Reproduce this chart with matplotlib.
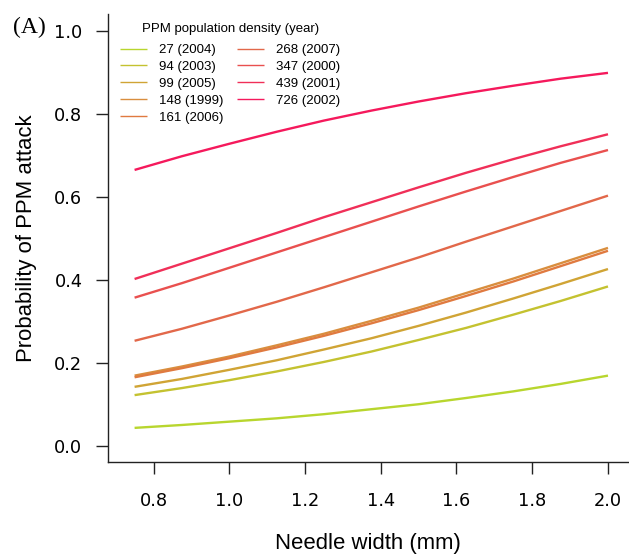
import numpy as np
import matplotlib
matplotlib.use('Agg')
import matplotlib.pyplot as plt

# needle width (mm) where the fitted curves were read
needle_width = [0.75, 0.875, 1.0, 1.125, 1.25, 1.375, 1.5, 1.625, 1.75, 1.875, 2.0]

# predicted probability of attack, one list per PPM density (year)
p_27 = [0.043, 0.050, 0.058, 0.066, 0.076, 0.088, 0.100, 0.115, 0.131, 0.149, 0.169]
p_94 = [0.122, 0.139, 0.158, 0.179, 0.202, 0.227, 0.255, 0.284, 0.316, 0.349, 0.384]
p_99 = [0.142, 0.161, 0.183, 0.206, 0.232, 0.259, 0.289, 0.321, 0.355, 0.390, 0.426]
p_148 = [0.169, 0.191, 0.215, 0.242, 0.270, 0.301, 0.333, 0.368, 0.403, 0.440, 0.477]
p_161 = [0.165, 0.187, 0.211, 0.237, 0.265, 0.295, 0.327, 0.361, 0.396, 0.433, 0.470]
p_268 = [0.253, 0.282, 0.314, 0.347, 0.382, 0.418, 0.454, 0.492, 0.529, 0.566, 0.603]
p_347 = [0.357, 0.392, 0.429, 0.466, 0.503, 0.540, 0.577, 0.613, 0.648, 0.682, 0.713]
p_439 = [0.402, 0.439, 0.476, 0.513, 0.551, 0.587, 0.623, 0.658, 0.691, 0.722, 0.751]
p_726 = [0.665, 0.698, 0.728, 0.757, 0.784, 0.808, 0.830, 0.850, 0.868, 0.885, 0.899]

curves = [p_27, p_94, p_99, p_148, p_161, p_268, p_347, p_439, p_726]
labels = ['27 (2004)', '94 (2003)', '99 (2005)', '148 (1999)', '161 (2006)',
          '268 (2007)', '347 (2000)', '439 (2001)', '726 (2002)']
colours = ['#b8d62e', '#c4c230', '#d0a435', '#d98e3e', '#e07a40',
           '#e2684a', '#e9504f', '#f02f58', '#f5195c']

plt.rcParams['font.family'] = ['Liberation Sans', 'DejaVu Sans']

W, H = 629, 554
fig = plt.figure(figsize=(W / 100.0, H / 100.0), dpi=100)

# axes box in pixels: left 107.7, right 629, top 14.4, bottom 462.3
ax = fig.add_axes([107.7 / W, (H - 462.3) / H, (W - 107.7) / W, (462.3 - 14.4) / H])

for p, lab, col in zip(curves, labels, colours):
    ax.plot(needle_width, p, color=col, lw=1.7, label=lab,
            solid_capstyle='butt', solid_joinstyle='round')

ax.set_xlim(0.679, 2.0555)
ax.set_ylim(-0.04, 1.04)
ax.set_xticks([0.8, 1.0, 1.2, 1.4, 1.6, 1.8, 2.0])
ax.set_yticks([0.0, 0.2, 0.4, 0.6, 0.8, 1.0])
ax.xaxis.set_major_formatter(matplotlib.ticker.FormatStrFormatter('%.1f'))
ax.yaxis.set_major_formatter(matplotlib.ticker.FormatStrFormatter('%.1f'))

ax.spines['top'].set_visible(False)
ax.spines['right'].set_visible(False)
for s in ['left', 'bottom']:
    ax.spines[s].set_linewidth(1.0)
    ax.spines[s].set_color('#222222')
ax.tick_params(axis='both', direction='out', length=8.6, width=1.0, color='#222222',
               labelsize=12.8)
ax.tick_params(axis='x', pad=13.0)
ax.tick_params(axis='y', pad=9.6)
for t in ax.get_xticklabels() + ax.get_yticklabels():
    t.set_family('DejaVu Sans')

ax.set_xlabel('Needle width (mm)', fontsize=15.9)
ax.xaxis.label.set_va('baseline')
ax.xaxis.set_label_coords(0.5, (462.3 - 549.0) / (462.3 - 14.4))
ax.set_ylabel('Probability of PPM attack', fontsize=15.9)
ax.yaxis.label.set_va('baseline')
ax.yaxis.set_label_coords((31.7 - 107.7) / (W - 107.7), 0.5)

fig.text(13 / W, (H - 33.5) / H, '(A)', family='Liberation Serif', fontsize=17,
         va='baseline', ha='left')

leg = ax.legend(loc='upper left', bbox_to_anchor=(120 / W, 1 - 23.0 / H),
                bbox_transform=fig.transFigure, ncol=2, frameon=False,
                title='PPM population density (year)', title_fontsize=9.5,
                fontsize=9.5, handlelength=2.05, handletextpad=0.9,
                columnspacing=1.05, labelspacing=0.36, borderpad=0, borderaxespad=0)
leg._legend_box.sep = 6.4  # more room under the title
for h in leg.get_lines():
    h.set_linewidth(1.0)

fig.savefig('out.png', dpi=100)
